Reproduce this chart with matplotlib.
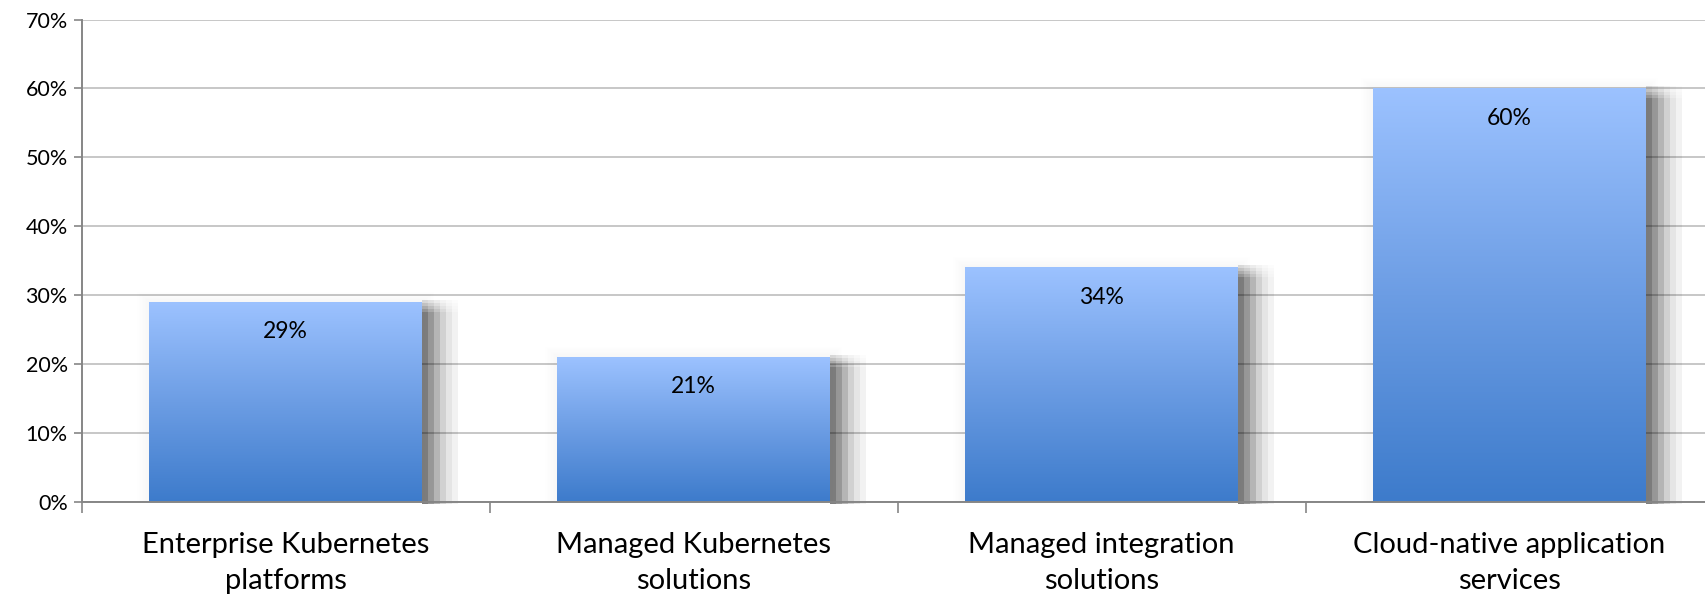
import numpy as np
import matplotlib
matplotlib.use("Agg")
import matplotlib.pyplot as plt
from matplotlib.colors import LinearSegmentedColormap
from matplotlib.patches import Rectangle

categories = ["Enterprise Kubernetes\nplatforms", "Managed Kubernetes\nsolutions",
              "Managed integration\nsolutions", "Cloud-native application\nservices"]
values = [29, 21, 34, 60]
yticks = [0, 10, 20, 30, 40, 50, 60, 70]

plt.rcParams['font.family'] = ['Lato', 'DejaVu Sans']

fig = plt.figure(figsize=(17.06, 5.96), dpi=100)
ax = fig.add_axes([0.0478, 0.1584, 0.9566, 0.8087])
ax.set_xlim(-0.5, len(values) - 0.5)
ax.set_ylim(0, 70)

cmap = LinearSegmentedColormap.from_list("g", ["#3D7BCB", "#6C9DE4", "#9CC2FF"])
grad = np.linspace(0, 1, 256).reshape(-1, 1)
bw = 0.669
px = 1.0 / 408.0  # data units per pixel in x
py = 70.0 / 482.0  # data units per pixel in y

for i, v in enumerate(values):
    x0 = i - bw / 2
    x1 = i + bw / 2
    # soft glow around the bar
    for k in range(1, 9):
        ax.add_patch(Rectangle((x0 - k * px * 1.5, 0), bw + 2 * k * px * 1.5, v + k * py * 1.3,
                               facecolor="#000000", alpha=0.005, edgecolor="none", zorder=2,
                               clip_on=False))
    # shadow to the right
    steps = [(0, 6, 0.50), (6, 12, 0.40), (12, 18, 0.29), (18, 24, 0.18), (24, 30, 0.10), (30, 36, 0.05)]
    for a, b, al in steps:
        ax.add_patch(Rectangle((x1 + a * px, -2 * py), (b - a) * px, v - 10 * py + 2 * py,
                               facecolor="#000000", alpha=al, edgecolor="none", zorder=2,
                               clip_on=False))
        for j in range(4):
            ax.add_patch(Rectangle((x1 + a * px, v - 10 * py + j * 3 * py), (b - a) * px, 3 * py,
                                   facecolor="#000000", alpha=al * (0.8 - 0.18 * j),
                                   edgecolor="none", zorder=2))
    ax.imshow(grad, cmap=cmap, origin="lower", extent=(x0, x1, 0, v), aspect="auto",
              interpolation="bilinear", zorder=3)
    ax.text(i, v - 30 * py, f"{v}%", ha="center", va="center", fontsize=16.5, color="#000000", zorder=4)

ax.set_yticks(yticks)
ax.set_yticklabels([f"{t}%" for t in yticks], fontsize=15.5)
ax.yaxis.grid(True, color="#BEBEBE", linewidth=1.2, zorder=1)
ax.set_axisbelow(True)

ax.set_xticks(np.arange(len(values) + 1) - 0.5, minor=True)
ax.set_xticks(np.arange(len(values)))
ax.set_xticklabels(categories, fontsize=21, linespacing=1.45)
ax.tick_params(axis="x", which="major", length=0, pad=22)
ax.tick_params(axis="x", which="minor", length=8, color="#868686", width=1.2)
ax.tick_params(axis="y", length=6, color="#868686", width=1.2, pad=4)

for s in ["top", "right"]:
    ax.spines[s].set_visible(False)
for s in ["left", "bottom"]:
    ax.spines[s].set_color("#868686")
    ax.spines[s].set_linewidth(1.4)
    ax.spines[s].set_zorder(5)

fig.savefig("out.png", dpi=100)
